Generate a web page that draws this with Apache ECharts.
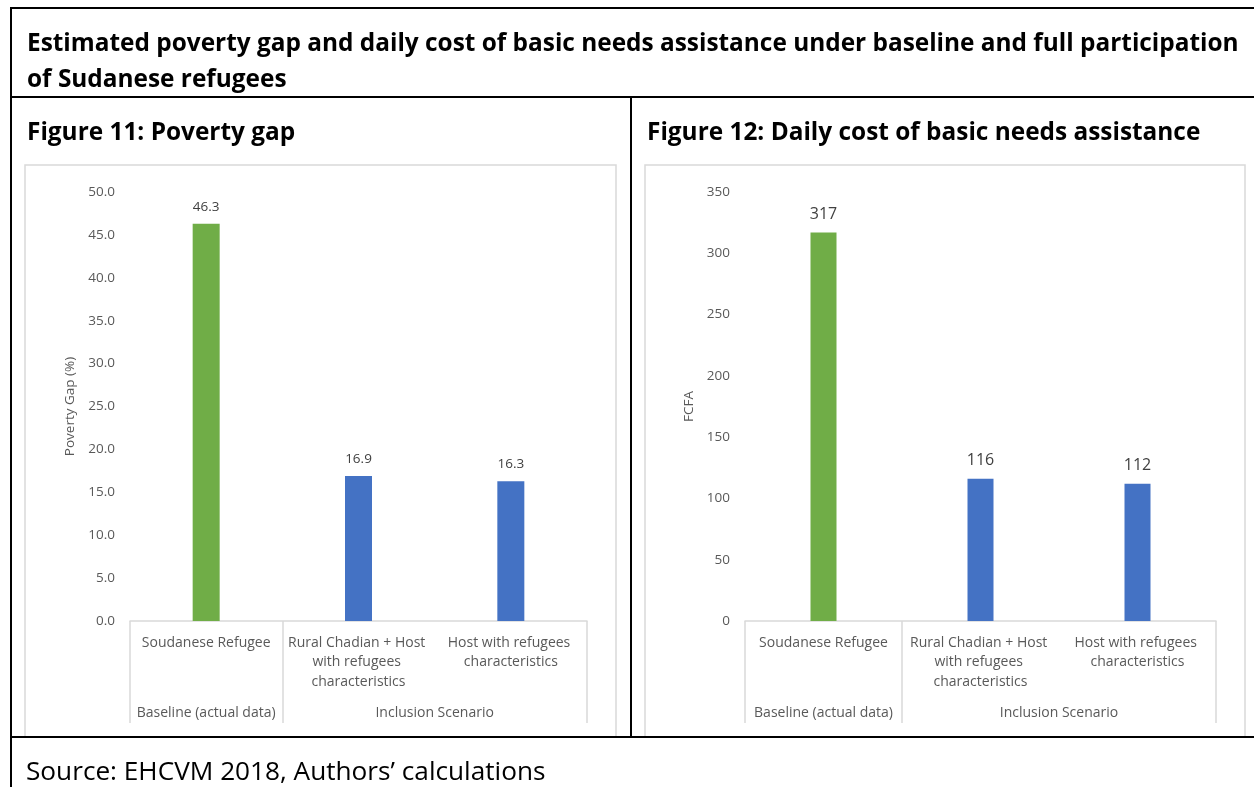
<!DOCTYPE html>
<html>
<head>
<meta charset="utf-8">
<title>Poverty gap and daily cost of basic needs assistance</title>
<script src="https://cdn.jsdelivr.net/npm/echarts@6/dist/echarts.min.js"></script>
<style>
  html, body { margin: 0; padding: 0; background: #ffffff; }
  #chart { width: 1254px; height: 787px; }
</style>
</head>
<body>
<div id="chart"></div>
<script>
// ---- Data ----
const pageTitleLines = [
  'Estimated poverty gap and daily cost of basic needs assistance under baseline and full participation',
  'of Sudanese refugees'
];
const sourceNote = 'Source: EHCVM 2018, Authors\u2019 calculations';
const panelTitles = ['Figure 11: Poverty gap', 'Figure 12: Daily cost of basic needs assistance'];
const categories = [
  'Soudanese Refugee',
  'Rural Chadian + Host with refugees characteristics',
  'Host with refugees characteristics'
];
const categoryGroup = [0, 1, 1];
const groupNames = ['Baseline (actual data)', 'Inclusion Scenario'];
const povertyGap = [46.3, 16.9, 16.3];
const dailyCost = [317, 116, 112];
const axisNames = ['Poverty Gap (%)', 'FCFA'];
const povertyScale = { min: 0, max: 50, interval: 5 };
const costScale = { min: 0, max: 350, interval: 50 };

// ---- Styling / layout ----
const FONT = '"Open Sans", "Noto Sans", sans-serif';
const groupColors = ['#70AD47', '#4472C4'];
const lightLine = '#d9d9d9';
const axisText = '#595959';
const panels = [
  { box: [25, 165, 591, 572], grid: { left: 130, top: 192, width: 457, height: 429 },
    titleX: 27, values: povertyGap, scale: povertyScale, digits: 1, labelSize: 13.5, nameGap: 53, barWidth: 27 },
  { box: [645, 165, 600, 572], grid: { left: 745, top: 192, width: 471, height: 429 },
    titleX: 647, values: dailyCost, scale: costScale, digits: 0, labelSize: 16, nameGap: 49, barWidth: 26 }
];

// Group boundaries (in category units) and the centre of each group span
const groupBounds = [0];
for (let i = 1; i < categoryGroup.length; i++) {
  if (categoryGroup[i] !== categoryGroup[i - 1]) groupBounds.push(i);
}
groupBounds.push(categories.length);
const groupCenters = groupNames.map((_, g) => (groupBounds[g] + groupBounds[g + 1]) / 2);

const chart = echarts.init(document.getElementById('chart'), null, { renderer: 'canvas' });

const grids = [], xAxes = [], yAxes = [], series = [];
panels.forEach((p, i) => {
  grids.push(Object.assign({ containLabel: false }, p.grid));

  // first-level category labels
  xAxes.push({
    type: 'category', gridIndex: i, position: 'bottom', data: categories,
    axisLine: { lineStyle: { color: lightLine, width: 1.5 } },
    axisTick: { show: false },
    axisLabel: {
      interval: 0, margin: 12, color: axisText, fontFamily: FONT, fontSize: 14,
      width: 150, overflow: 'break', lineHeight: 19.5, align: 'center'
    },
    splitLine: { show: false }
  });
  // second-level group labels with long separator ticks
  xAxes.push({
    type: 'value', gridIndex: i, position: 'bottom', min: 0, max: categories.length,
    axisLine: { show: false },
    splitLine: { show: false },
    axisTick: { show: true, customValues: groupBounds, length: 102, inside: false,
      lineStyle: { color: lightLine, width: 1.5 } },
    axisLabel: {
      customValues: groupCenters, margin: 85, color: axisText, fontFamily: FONT, fontSize: 14,
      formatter: v => groupNames[groupCenters.indexOf(v)] || ''
    }
  });
  yAxes.push({
    type: 'value', gridIndex: i, min: p.scale.min, max: p.scale.max, interval: p.scale.interval,
    name: axisNames[i], nameLocation: 'middle', nameGap: p.nameGap,
    nameTextStyle: { color: axisText, fontFamily: FONT, fontSize: 13.5 },
    axisLine: { show: false }, axisTick: { show: false }, splitLine: { show: false },
    axisLabel: { margin: 15, color: axisText, fontFamily: FONT, fontSize: 13.5,
      formatter: v => v.toFixed(p.digits) }
  });
  series.push({
    type: 'bar', xAxisIndex: 2 * i, yAxisIndex: i, barWidth: p.barWidth,
    data: p.values.map((v, k) => ({ value: v, itemStyle: { color: groupColors[categoryGroup[k]] } })),
    label: { show: true, position: 'top', distance: 10, color: '#404040', fontFamily: FONT,
      fontSize: p.labelSize, formatter: d => d.value.toFixed(p.digits) },
    animation: false
  });
});

// Table frame, panel boxes and headings
const black = '#000000';
const graphic = [];
panels.forEach((p, i) => {
  graphic.push({ type: 'rect', z: 0, shape: { x: p.box[0], y: p.box[1], width: p.box[2], height: p.box[3] },
    style: { fill: '#ffffff', stroke: lightLine, lineWidth: 1.5 } });
  graphic.push({ type: 'text', z: 10, x: p.titleX, y: 133,
    style: { text: panelTitles[i], font: 'bold 24.4px ' + FONT, fill: '#000000', verticalAlign: 'middle' } });
});
[
  [10, 8, 1254, 8], [11, 8, 11, 787], [10, 97, 1254, 97], [631, 97, 631, 737], [10, 737, 1254, 737]
].forEach(s => graphic.push({ type: 'line', z: 100,
  shape: { x1: s[0], y1: s[1], x2: s[2], y2: s[3] }, style: { stroke: black, lineWidth: 2 } }));
pageTitleLines.forEach((line, k) => graphic.push({ type: 'text', z: 10, x: 27, y: 44 + 36 * k,
  style: { text: line, font: 'bold 24.4px ' + FONT, fill: '#000000', verticalAlign: 'middle' } }));
graphic.push({ type: 'text', z: 10, x: 26, y: 773,
  style: { text: sourceNote, font: '26.2px ' + FONT, fill: '#000000', verticalAlign: 'middle' } });

chart.setOption({
  backgroundColor: '#ffffff',
  animation: false,
  grid: grids,
  xAxis: xAxes,
  yAxis: yAxes,
  series: series,
  graphic: graphic
});
</script>
</body>
</html>
